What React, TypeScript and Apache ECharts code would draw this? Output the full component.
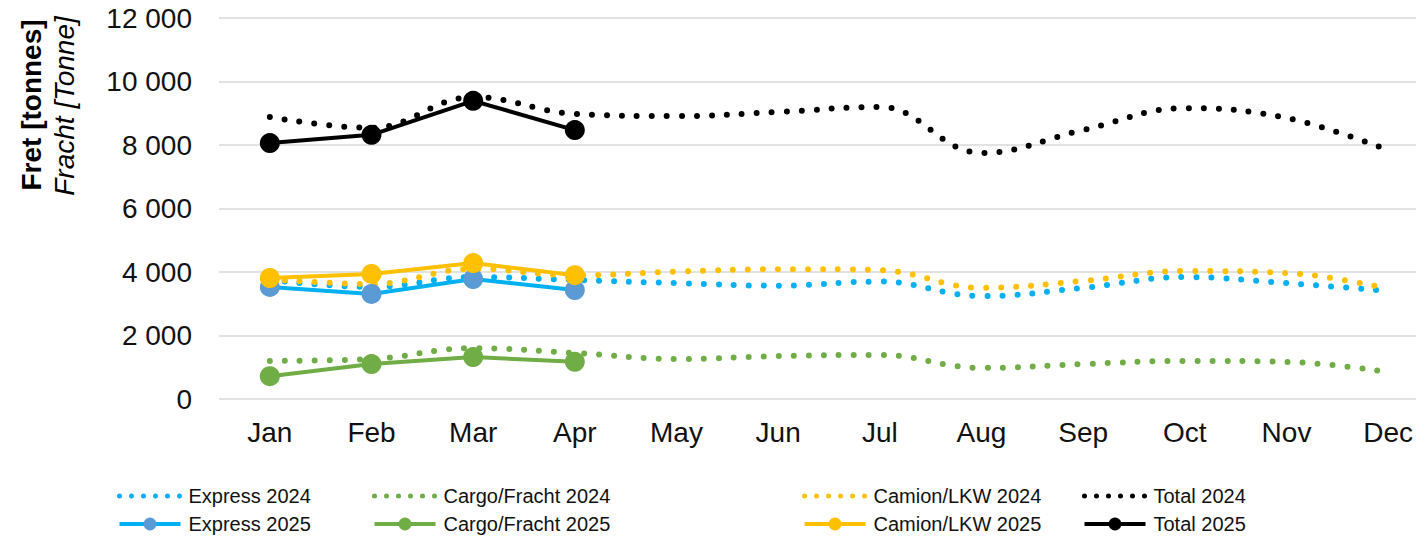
import React, { useEffect, useRef } from "react";
import * as echarts from "echarts";

const months = ["Jan", "Feb", "Mar", "Apr", "May", "Jun", "Jul", "Aug", "Sep", "Oct", "Nov", "Dec"];
const express2024 = [3750, 3530, 3840, 3750, 3650, 3570, 3700, 3240, 3500, 3840, 3650, 3400];
const cargo2024 = [1200, 1260, 1600, 1450, 1260, 1350, 1390, 980, 1100, 1200, 1170, 850];
const camion2024 = [3780, 3620, 4100, 3900, 4010, 4090, 4060, 3500, 3720, 4030, 3970, 3470];
const total2024 = [8880, 8540, 9510, 8980, 8910, 9040, 9200, 7750, 8470, 9160, 8850, 7840];
const express2025 = [3530, 3310, 3780, 3430];
const cargo2025 = [720, 1100, 1320, 1170];
const camion2025 = [3810, 3940, 4280, 3900];
const total2025 = [8060, 8320, 9390, 8470];

const FONT = "'Liberation Sans', Arial, sans-serif";

function dotted(name: string, data: number[], color: string) {
  return {
    name,
    type: "line",
    data,
    smooth: 0.4,
    symbol: "none",
    lineStyle: { color, width: 6, type: [0, 15], cap: "round" },
    itemStyle: { color },
    z: 2,
  };
}

function solid(name: string, data: number[], color: string, marker: string) {
  return {
    name,
    type: "line",
    data,
    symbol: "circle",
    symbolSize: 20,
    lineStyle: { color, width: 4 },
    itemStyle: { color: marker },
    z: 3,
  };
}

export default function App() {
  const ref = useRef<HTMLDivElement>(null);
  useEffect(() => {
    if (!ref.current) return;
    const chart = echarts.init(ref.current, undefined, { renderer: "svg" });
    const legendCommon = {
      orient: "vertical",
      top: 486,
      padding: 0,
      itemWidth: 61,
      itemHeight: 16,
      itemGap: 8,
      selectedMode: false,
      textStyle: { fontFamily: FONT, fontSize: 20, color: "#111", padding: [0, 0, 0, 3] },
    };
    const dotLegend = (n: string) => ({
      name: n,
      lineStyle: { type: [0, 12], width: 5, cap: "round" },
      itemStyle: { opacity: 0 },
    });
    const solidLegend = (n: string) => ({ name: n, lineStyle: { width: 4 } });
    chart.setOption({
      animation: false,
      backgroundColor: "#fff",
      grid: { left: 219, top: 18, width: 1220, height: 381, outerBoundsMode: "none" },
      legend: [
        { ...legendCommon, left: 117, data: [dotLegend("Express 2024"), solidLegend("Express 2025")] },
        { ...legendCommon, left: 372, data: [dotLegend("Cargo/Fracht 2024"), solidLegend("Cargo/Fracht 2025")] },
        { ...legendCommon, left: 802, data: [dotLegend("Camion/LKW 2024"), solidLegend("Camion/LKW 2025")] },
        { ...legendCommon, left: 1082, data: [dotLegend("Total 2024"), solidLegend("Total 2025")] },
      ],
      xAxis: {
        type: "category",
        data: months,
        boundaryGap: true,
        axisLine: { show: false },
        axisTick: { show: false },
        axisLabel: { fontFamily: FONT, fontSize: 28, color: "#111", margin: 19 },
      },
      yAxis: {
        type: "value",
        min: 0,
        max: 12000,
        interval: 2000,
        axisLine: { show: false },
        axisTick: { show: false },
        splitLine: { lineStyle: { color: "#d9d9d9", width: 1.5 } },
        axisLabel: {
          fontFamily: FONT,
          fontSize: 28,
          color: "#111",
          margin: 27,
          formatter: (v: number) => String(v).replace(/\B(?=(\d{3})+(?!\d))/g, " "),
        },
      },
      graphic: [
        {
          type: "text",
          x: 31,
          y: 105,
          rotation: Math.PI / 2,
          style: {
            text: "Fret [tonnes]",
            font: `bold 28px ${FONT}`,
            fill: "#000",
            textAlign: "center",
            textVerticalAlign: "middle",
          },
        },
        {
          type: "text",
          x: 64,
          y: 106,
          rotation: Math.PI / 2,
          style: {
            text: "Fracht [Tonne]",
            font: `italic 28px ${FONT}`,
            fill: "#000",
            textAlign: "center",
            textVerticalAlign: "middle",
          },
        },
      ],
      series: [
        dotted("Express 2024", express2024, "#00B0F0"),
        dotted("Cargo/Fracht 2024", cargo2024, "#70AD47"),
        dotted("Camion/LKW 2024", camion2024, "#FFC000"),
        dotted("Total 2024", total2024, "#000000"),
        solid("Express 2025", express2025, "#00B0F0", "#5B9BD5"),
        solid("Cargo/Fracht 2025", cargo2025, "#70AD47", "#70AD47"),
        solid("Camion/LKW 2025", camion2025, "#FFC000", "#FFC000"),
        solid("Total 2025", total2025, "#000000", "#000000"),
      ],
    });
    return () => chart.dispose();
  }, []);
  return (
    <div
      ref={ref}
      style={{ position: "fixed", left: 0, top: 0, width: 1416, height: 541, background: "#fff" }}
    />
  );
}
